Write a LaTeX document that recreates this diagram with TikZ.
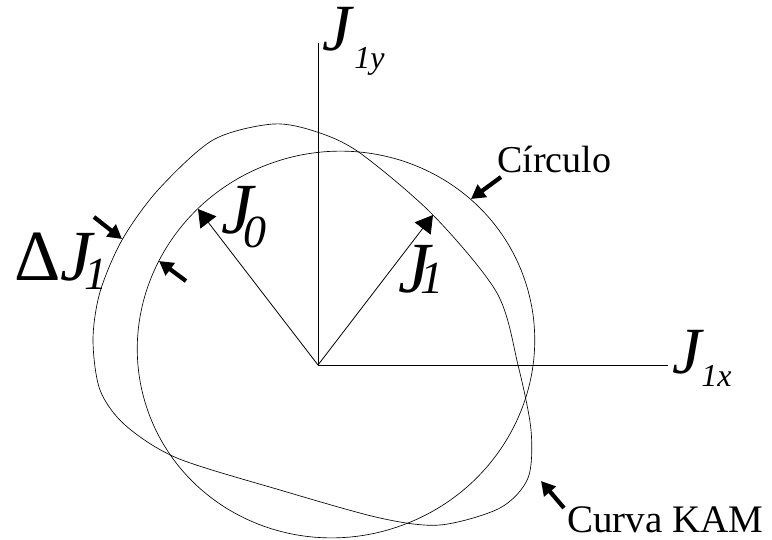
\documentclass[tikz,border=0pt]{standalone}
\usepackage{fontspec}
\setmainfont{Liberation Serif}
\usetikzlibrary{arrows.meta}
\begin{document}
\begin{tikzpicture}[x=1pt,y=-1pt,
  axis/.style={line width=0.8pt},
  curve/.style={line width=0.65pt},
  bigarrow/.style={line width=4.2pt,-{Triangle[length=14pt,width=15pt]}},
  vec/.style={line width=0.8pt,-{Triangle[length=17pt,width=20pt]}},
  lbl/.style={inner sep=0pt,anchor=base west,font=\fontsize{38}{40}\selectfont},
  jlbl/.style={inner sep=0pt,anchor=base west}]
\useasboundingbox (0,0) rectangle (772,539);
% axes
\coordinate (O) at (318,365);
\coordinate (Ytop) at (318,43);
\coordinate (Xend) at (668,365);
\draw[axis] (O) -- (Ytop);
\draw[axis] (O) -- (Xend);
% circle (slightly elliptic, as drawn)
\coordinate (C) at (336,344.5);
\draw[curve, rotate around={20:(C)}] (C) ellipse[x radius=199.5, y radius=192.5];
% KAM curve
\draw[curve] plot[smooth cycle, tension=0.5] coordinates {
 (93,340) (100,292) (122,240) (158,190) (213,140) (273,124) (317,132)
 (360,153) (433,215) (497,293) (518,365) (531,430) (528,478) (500,508)
 (440,525) (380,518) (280,490) (177,458) (125,425) (100,390)};
% radius vectors
\coordinate (J0tip) at (198,209);
\coordinate (J1tip) at (433,215);
\draw[vec] (O) -- (J0tip);
\draw[vec] (O) -- (J1tip);
% thick pointer arrows
\coordinate (dA1) at (94,217);  \coordinate (dA1t) at (122,239);
\coordinate (dA2) at (186,281); \coordinate (dA2t) at (159,261);
\coordinate (cA) at (501,177);  \coordinate (cAt) at (471,199);
\coordinate (kA) at (564,508);  \coordinate (kAt) at (541,481);
\draw[bigarrow] (dA1) -- (dA1t);
\draw[bigarrow] (dA2) -- (dA2t);
\draw[bigarrow] (cA) -- (cAt);
\draw[bigarrow] (kA) -- (kAt);
% labels
\node[lbl] (circ) at (497,172) {Círculo};
\node[lbl,font=\fontsize{39}{41}\selectfont] (kam) at (567,532) {Curva KAM};
\node[jlbl] (j1y) at (322,50) {\fontsize{66}{60}\selectfont\itshape J\kern3pt\raisebox{-18pt}{\fontsize{32}{32}\selectfont 1y}};
\node[jlbl] (j1x) at (672,373) {\fontsize{66}{60}\selectfont\itshape J\kern0pt\raisebox{-13pt}{\fontsize{32}{32}\selectfont 1x}};
\node[jlbl] (j0) at (221,233) {\fontsize{72}{72}\selectfont\itshape J\kern-10pt\raisebox{-14pt}{\fontsize{46}{46}\selectfont 0}};
\node[jlbl] (j1) at (398,292) {\fontsize{72}{72}\selectfont\itshape J\kern-10pt\raisebox{-1pt}{\fontsize{46}{46}\selectfont 1}};
\node[jlbl] (dj) at (14,280) {\fontsize{72}{72}\selectfont Δ\itshape J\kern-8pt\raisebox{-9pt}{\fontsize{46}{46}\selectfont 1}};
\end{tikzpicture}
\end{document}
